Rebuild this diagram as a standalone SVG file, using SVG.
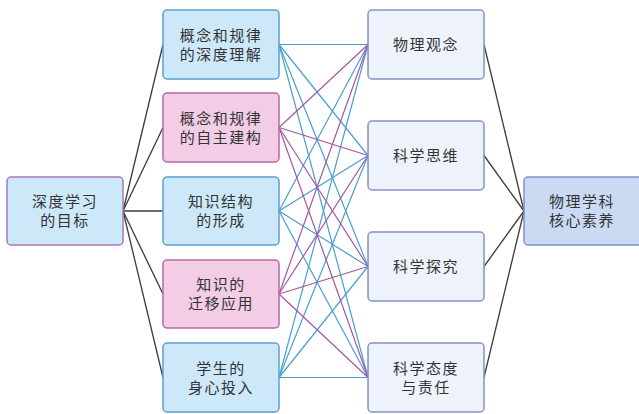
<svg xmlns="http://www.w3.org/2000/svg" width="639" height="414" viewBox="0 0 639 414">
<style>
.n rect{stroke-width:1.5}
.blue rect{fill:#cde9f9;stroke:#5aa0d6}
.pink rect{fill:#f3cde6;stroke:#b56aa8}
.src rect{fill:#cde9f9;stroke:#a87ab8}
.out rect{fill:#eef3fb;stroke:#8790c8}
.goal rect{fill:#cadaf3;stroke:#7e91c8}
text{font-family:"Liberation Sans","Noto Sans CJK SC",sans-serif;font-size:15px;fill:#333;text-anchor:middle;dominant-baseline:central;letter-spacing:1.5px}
.k line{stroke:#3a3a3a;stroke-width:1.3}
.b line{stroke:#4a9fd0;stroke-width:1.2}
.p line{stroke:#a5579f;stroke-width:1.2}
</style>
<g id="connectors" fill="none">
<g class="k">
<line x1="123" y1="211" x2="163" y2="44.5"/>
<line x1="123" y1="211" x2="163" y2="127.5"/>
<line x1="123" y1="211" x2="163" y2="211"/>
<line x1="123" y1="211" x2="163" y2="294"/>
<line x1="123" y1="211" x2="163" y2="377.5"/>
<line x1="484" y1="44.5" x2="524" y2="211"/>
<line x1="484" y1="155.5" x2="524" y2="211"/>
<line x1="484" y1="266.5" x2="524" y2="211"/>
<line x1="484" y1="377.5" x2="524" y2="211"/>
</g>
<g class="b">
<line x1="279" y1="44.5" x2="368" y2="44.5"/>
<line x1="279" y1="44.5" x2="368" y2="155.5"/>
<line x1="279" y1="44.5" x2="368" y2="266.5"/>
<line x1="279" y1="44.5" x2="368" y2="377.5"/>
<line x1="279" y1="211" x2="368" y2="44.5"/>
<line x1="279" y1="211" x2="368" y2="155.5"/>
<line x1="279" y1="211" x2="368" y2="266.5"/>
<line x1="279" y1="211" x2="368" y2="377.5"/>
<line x1="279" y1="377.5" x2="368" y2="44.5"/>
<line x1="279" y1="377.5" x2="368" y2="155.5"/>
<line x1="279" y1="377.5" x2="368" y2="266.5"/>
<line x1="279" y1="377.5" x2="368" y2="377.5"/>
</g>
<g class="p">
<line x1="279" y1="127.5" x2="368" y2="44.5"/>
<line x1="279" y1="127.5" x2="368" y2="155.5"/>
<line x1="279" y1="127.5" x2="368" y2="266.5"/>
<line x1="279" y1="127.5" x2="368" y2="377.5"/>
<line x1="279" y1="294" x2="368" y2="44.5"/>
<line x1="279" y1="294" x2="368" y2="155.5"/>
<line x1="279" y1="294" x2="368" y2="266.5"/>
<line x1="279" y1="294" x2="368" y2="377.5"/>
</g>
</g>
<g id="goal-deep" class="n src"><rect x="7" y="177" width="116" height="68" rx="4"/><text x="65" y="201.5">深度学习</text><text x="65" y="220.5">的目标</text></g>
<g id="m1" class="n blue"><rect x="163" y="10" width="116" height="69" rx="4"/><text x="221" y="35">概念和规律</text><text x="221" y="54">的深度理解</text></g>
<g id="m2" class="n pink"><rect x="163" y="93" width="116" height="69" rx="4"/><text x="221" y="118">概念和规律</text><text x="221" y="137">的自主建构</text></g>
<g id="m3" class="n blue"><rect x="163" y="177" width="116" height="68" rx="4"/><text x="221" y="201.5">知识结构</text><text x="221" y="220.5">的形成</text></g>
<g id="m4" class="n pink"><rect x="163" y="260" width="116" height="68" rx="4"/><text x="221" y="284.5">知识的</text><text x="221" y="303.5">迁移应用</text></g>
<g id="m5" class="n blue"><rect x="163" y="343" width="116" height="69" rx="4"/><text x="221" y="368">学生的</text><text x="221" y="387">身心投入</text></g>
<g id="r1" class="n out"><rect x="368" y="10" width="116" height="69" rx="4"/><text x="426" y="44">物理观念</text></g>
<g id="r2" class="n out"><rect x="368" y="121" width="116" height="69" rx="4"/><text x="426" y="155">科学思维</text></g>
<g id="r3" class="n out"><rect x="368" y="232" width="116" height="69" rx="4"/><text x="426" y="266">科学探究</text></g>
<g id="r4" class="n out"><rect x="368" y="343" width="116" height="69" rx="4"/><text x="426" y="368">科学态度</text><text x="426" y="387">与责任</text></g>
<g id="core" class="n goal"><rect x="524" y="177" width="118" height="68" rx="4"/><text x="582" y="201.5">物理学科</text><text x="582" y="220.5">核心素养</text></g>
</svg>
